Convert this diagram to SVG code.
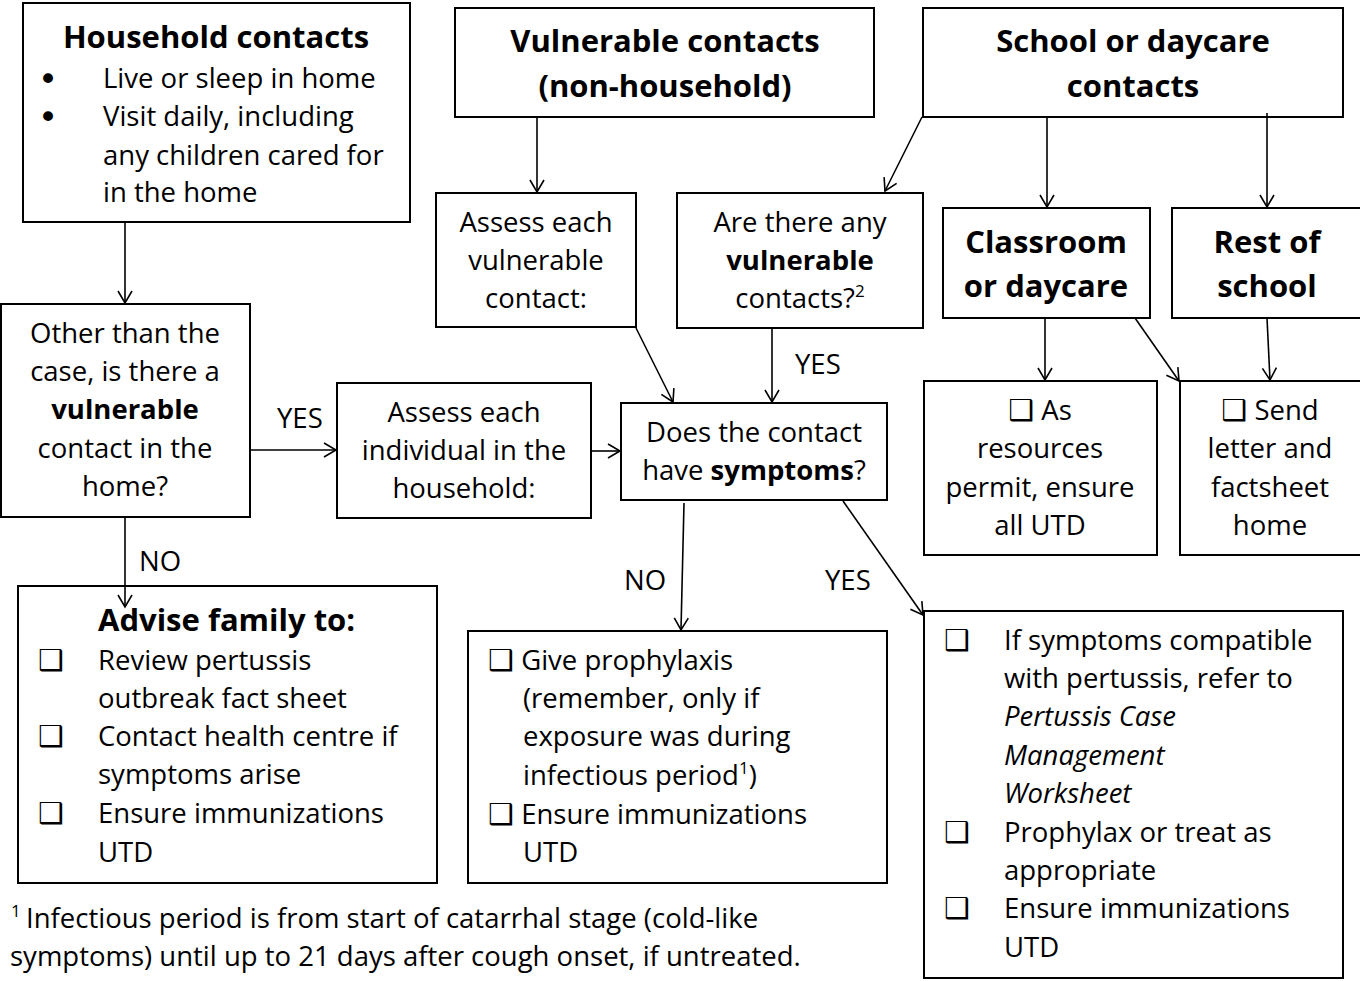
<svg xmlns="http://www.w3.org/2000/svg" width="1360" height="981" viewBox="0 0 1360 981">
<style>
text{font-family:"Open Sans","Liberation Sans",sans-serif;font-size:27.5px;fill:#000}
.b{font-weight:bold}
.h{font-weight:bold;font-size:31px}
.c{text-anchor:middle}
.i{font-style:italic}
.cb{font-family:"DejaVu Sans",sans-serif;font-size:29px}
.bu{font-family:"DejaVu Sans",sans-serif;font-size:34px}
.box{fill:#fff;stroke:#000;stroke-width:2}
.ln{fill:none;stroke:#000;stroke-width:1.6}
</style>
<defs>
<marker id="arr" markerUnits="userSpaceOnUse" markerWidth="16" markerHeight="16" refX="13" refY="8" orient="auto">
<path d="M1,1 L13,8 L1,15" fill="none" stroke="#000" stroke-width="1.6"/>
</marker>
</defs>
<rect width="1360" height="981" fill="#fff"/>

<g id="household">
<rect class="box" x="23" y="3" width="387" height="219"/>
<text class="h c" x="216" y="48">Household contacts</text>
<text class="bu" x="38" y="91">•</text><text x="103" y="88">Live or sleep in home</text>
<text class="bu" x="38" y="129">•</text><text x="103" y="126">Visit daily, including</text>
<text x="103" y="165">any children cared for</text>
<text x="103" y="202">in the home</text>
</g>

<g id="vulnerable">
<rect class="box" x="455" y="8" width="419" height="109"/>
<text class="h c" x="665" y="52">Vulnerable contacts</text>
<text class="h c" x="665" y="97">(non-household)</text>
</g>

<g id="school">
<rect class="box" x="923" y="8" width="420" height="109"/>
<text class="h c" x="1133" y="52">School or daycare</text>
<text class="h c" x="1133" y="97">contacts</text>
</g>

<g id="assess-vulnerable">
<rect class="box" x="436" y="193" width="200" height="134"/>
<text class="c" x="536" y="232">Assess each</text>
<text class="c" x="536" y="270">vulnerable</text>
<text class="c" x="536" y="308">contact:</text>
</g>

<g id="any-vulnerable">
<rect class="box" x="677" y="193" width="246" height="135"/>
<text class="c" x="800" y="232">Are there any</text>
<text class="c b" x="800" y="270">vulnerable</text>
<text class="c" x="800" y="308">contacts?<tspan font-size="17" dy="-11">2</tspan></text>
</g>

<g id="classroom">
<rect class="box" x="943" y="208" width="207" height="110"/>
<text class="h c" x="1046" y="253">Classroom</text>
<text class="h c" x="1046" y="297">or daycare</text>
</g>

<g id="rest-school">
<rect class="box" x="1172" y="208" width="192" height="110"/>
<text class="h c" x="1267" y="253">Rest of</text>
<text class="h c" x="1267" y="297">school</text>
</g>

<g id="other-than-case">
<rect class="box" x="1" y="304" width="249" height="213"/>
<text class="c" x="125" y="343">Other than the</text>
<text class="c" x="125" y="381">case, is there a</text>
<text class="c b" x="125" y="419">vulnerable</text>
<text class="c" x="125" y="458">contact in the</text>
<text class="c" x="125" y="496">home?</text>
</g>

<g id="assess-household">
<rect class="box" x="337" y="383" width="254" height="135"/>
<text class="c" x="464" y="422">Assess each</text>
<text class="c" x="464" y="460">individual in the</text>
<text class="c" x="464" y="498">household:</text>
</g>

<g id="symptoms">
<rect class="box" x="621" y="403" width="266" height="97"/>
<text class="c" x="754" y="442">Does the contact</text>
<text class="c" x="754" y="480">have <tspan class="b">symptoms</tspan>?</text>
</g>

<g id="resources">
<rect class="box" x="924" y="381" width="233" height="174"/>
<text class="c" x="1040" y="420"><tspan class="cb">❑</tspan> As</text>
<text class="c" x="1040" y="458">resources</text>
<text class="c" x="1040" y="497">permit, ensure</text>
<text class="c" x="1040" y="535">all UTD</text>
</g>

<g id="send-letter">
<rect class="box" x="1180" y="381" width="184" height="174"/>
<text class="c" x="1270" y="420"><tspan class="cb">❑</tspan> Send</text>
<text class="c" x="1270" y="458">letter and</text>
<text class="c" x="1270" y="497">factsheet</text>
<text class="c" x="1270" y="535">home</text>
</g>

<g id="advise">
<rect class="box" x="18" y="586" width="419" height="297"/>
<text class="h" x="98" y="631">Advise family to:</text>
<text class="cb" x="38" y="670">❑</text><text x="98" y="670">Review pertussis</text>
<text x="98" y="708">outbreak fact sheet</text>
<text class="cb" x="38" y="746">❑</text><text x="98" y="746">Contact health centre if</text>
<text x="98" y="784">symptoms arise</text>
<text class="cb" x="38" y="823">❑</text><text x="98" y="823">Ensure immunizations</text>
<text x="98" y="862">UTD</text>
</g>

<g id="prophylaxis">
<rect class="box" x="468" y="631" width="419" height="252"/>
<text x="488" y="670"><tspan class="cb">❑</tspan> Give prophylaxis</text>
<text x="523" y="708">(remember, only if</text>
<text x="523" y="746">exposure was during</text>
<text x="523" y="785">infectious period<tspan font-size="17" dy="-11">1</tspan><tspan dy="11">)</tspan></text>
<text x="488" y="824"><tspan class="cb">❑</tspan> Ensure immunizations</text>
<text x="523" y="862">UTD</text>
</g>

<g id="refer">
<rect class="box" x="924" y="611" width="419" height="367"/>
<text class="cb" x="944" y="650">❑</text><text x="1004" y="650">If symptoms compatible</text>
<text x="1004" y="688">with pertussis, refer to</text>
<text class="i" x="1004" y="726">Pertussis Case</text>
<text class="i" x="1004" y="765">Management</text>
<text class="i" x="1004" y="803">Worksheet</text>
<text class="cb" x="944" y="842">❑</text><text x="1004" y="842">Prophylax or treat as</text>
<text x="1004" y="880">appropriate</text>
<text class="cb" x="944" y="918">❑</text><text x="1004" y="918">Ensure immunizations</text>
<text x="1004" y="957">UTD</text>
</g>

<g id="footnote">
<text x="11" y="928"><tspan font-size="17" dy="-11">1</tspan><tspan x="26" dy="11">Infectious period is from start of catarrhal stage (cold-like</tspan></text>
<text x="10" y="966">symptoms) until up to 21 days after cough onset, if untreated.</text>
</g>

<g id="connectors">
<line class="ln" x1="125" y1="222" x2="125" y2="303" marker-end="url(#arr)"/>
<line class="ln" x1="125" y1="517" x2="125" y2="607" marker-end="url(#arr)"/>
<line class="ln" x1="250" y1="450" x2="336" y2="450" marker-end="url(#arr)"/>
<line class="ln" x1="591" y1="451" x2="620" y2="451" marker-end="url(#arr)"/>
<line class="ln" x1="537" y1="117" x2="537" y2="192" marker-end="url(#arr)"/>
<line class="ln" x1="922" y1="117" x2="885" y2="191" marker-end="url(#arr)"/>
<line class="ln" x1="1047" y1="117" x2="1047" y2="207" marker-end="url(#arr)"/>
<line class="ln" x1="1267" y1="113" x2="1267" y2="207" marker-end="url(#arr)"/>
<line class="ln" x1="636" y1="328" x2="673" y2="402" marker-end="url(#arr)"/>
<line class="ln" x1="772" y1="328" x2="772" y2="402" marker-end="url(#arr)"/>
<line class="ln" x1="684" y1="503" x2="681" y2="630" marker-end="url(#arr)"/>
<line class="ln" x1="843" y1="501" x2="923" y2="615" marker-end="url(#arr)"/>
<line class="ln" x1="1045" y1="318" x2="1045" y2="380" marker-end="url(#arr)"/>
<line class="ln" x1="1135" y1="318" x2="1179" y2="381" marker-end="url(#arr)"/>
<line class="ln" x1="1267" y1="318" x2="1270" y2="380" marker-end="url(#arr)"/>
<text x="277" y="428">YES</text>
<text x="139" y="571">NO</text>
<text x="795" y="374">YES</text>
<text x="624" y="590">NO</text>
<text x="825" y="590">YES</text>
</g>
</svg>
